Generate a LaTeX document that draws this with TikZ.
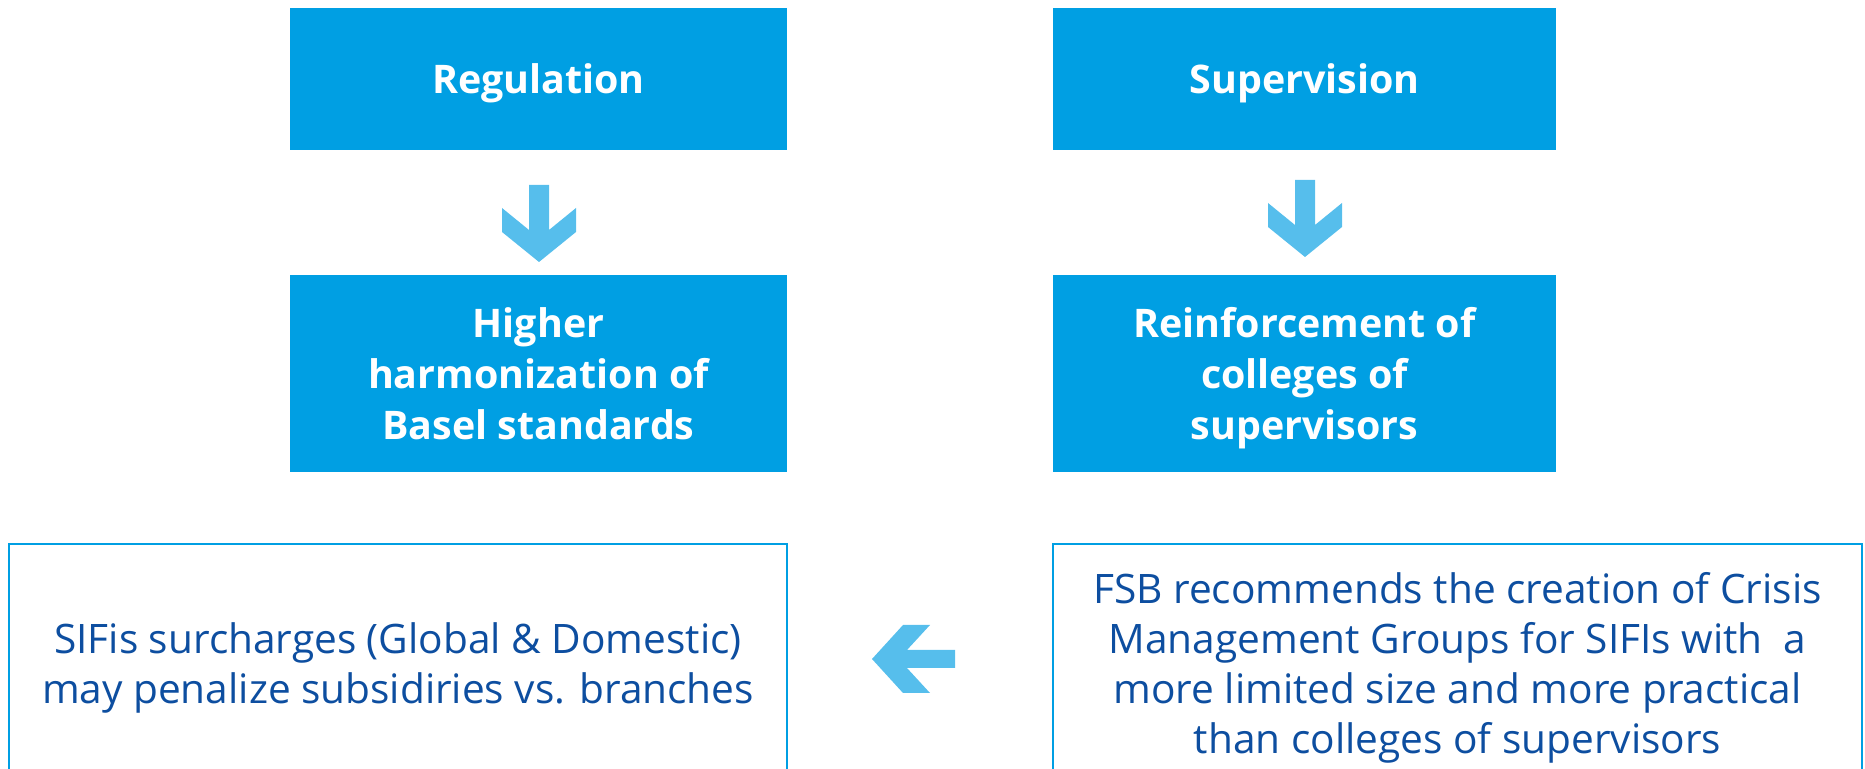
\documentclass[tikz,border=0pt]{standalone}
\usepackage{fontspec}
\setmainfont{Open Sans}
\definecolor{boxblue}{HTML}{009FE3}
\definecolor{arrowblue}{HTML}{56BEEC}
\definecolor{textblue}{HTML}{0D4EA0}
\begin{document}
\begin{tikzpicture}[x=0.5pt,y=-0.5pt,
  headbox/.style={fill=boxblue, draw=none, text=white, align=center,
    font=\fontsize{19.7}{25.5}\selectfont\bfseries, inner sep=0pt, text depth=-3.5pt,
    minimum width=#1},
  notebox/.style={draw=boxblue, line width=1pt, fill=white, text=textblue, align=center,
    font=\fontsize{20.3}{25}\selectfont, inner sep=0pt, minimum height=119pt,
    text depth=-1.5pt, minimum width=#1},
  blockarrow/.style={fill=arrowblue, draw=none}]
\useasboundingbox (0,0) rectangle (1865,769);
\clip (0,0) rectangle (1865,769);

% top row
\node[headbox=248.5pt, minimum height=71pt] (reg) at (538.5,79) {Regulation};
\node[headbox=251.5pt, minimum height=71pt] (sup) at (1304.5,79) {Supervision};

% second row
\node[headbox=248.5pt, minimum height=98.5pt] (harm) at (538.5,373.5)
  {Higher\\harmonization of\\Basel standards};
\node[headbox=251.5pt, minimum height=98.5pt] (coll) at (1304.5,373.5)
  {Reinforcement of\\colleges of\\supervisors};

% bottom row
\node[notebox=389pt] (sifi) at (398,663)
  {SIFis surcharges (Global \& Domestic)\\may penalize subsidiries vs. branches};
\node[notebox=404.5pt] (fsb) at (1457.5,663)
  {FSB recommends the creation of Crisis\\Management Groups for SIFIs with\ \ a\\more limited size and more practical\\than colleges of supervisors};

% block arrows
\fill[blockarrow] (529,185) -- (549,185) -- (549,230) -- (576,208) -- (576,232)
  -- (539,262) -- (502,232) -- (502,208) -- (529,230) -- cycle;
\fill[blockarrow] (1295,180) -- (1315,180) -- (1315,225) -- (1342,203) -- (1342,227)
  -- (1305,257) -- (1268,227) -- (1268,203) -- (1295,225) -- cycle;
\fill[blockarrow] (872,659) -- (903,625) -- (930,625) -- (907,650) -- (955,650)
  -- (955,668) -- (907,668) -- (930,693) -- (903,693) -- cycle;
\end{tikzpicture}
\end{document}
